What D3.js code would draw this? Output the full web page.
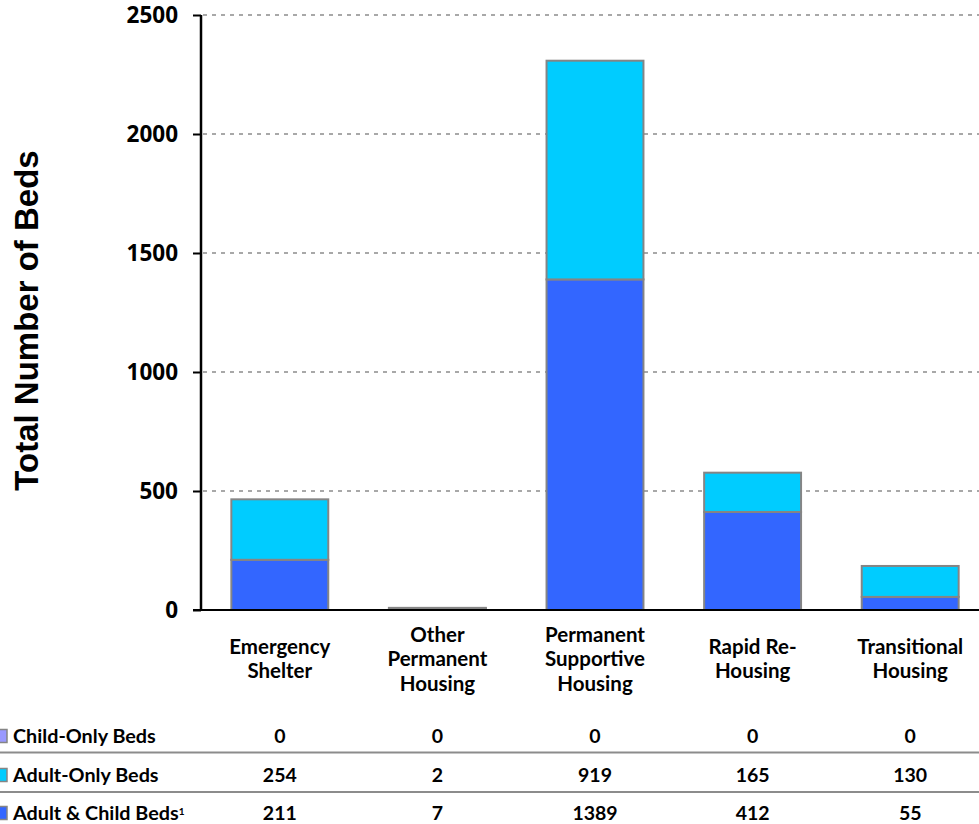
<!DOCTYPE html>
<html>
<head>
<meta charset="utf-8">
<script src="https://cdn.jsdelivr.net/npm/d3@7"></script>
<style>
  html, body { margin: 0; padding: 0; background: #fff; }
  svg { display: block; }
</style>
</head>
<body>
<svg id="chart" width="979" height="824"></svg>
<script>
// Bed inventory by project type
const categories = [
  ["Emergency", "Shelter"],
  ["Other", "Permanent", "Housing"],
  ["Permanent", "Supportive", "Housing"],
  ["Rapid Re-", "Housing"],
  ["Transitional", "Housing"]
];
const childOnly   = [0, 0, 0, 0, 0];
const adultOnly   = [254, 2, 919, 165, 130];
const adultChild  = [211, 7, 1389, 412, 55];
const yTicks      = [0, 500, 1000, 1500, 2000, 2500];

const seriesNames  = ["Adult & Child Beds", "Adult-Only Beds", "Child-Only Beds"];
const seriesColors = ["#3366FF", "#00CCFF", "#9999FF"];

const svg = d3.select("#chart");
const plot = { left: 201, right: 989, top: 15, bottom: 610 };

const x = d3.scaleBand()
  .domain(d3.range(categories.length))
  .range([plot.left, plot.right])
  .paddingInner(0.385)
  .paddingOuter(0.1925);

const y = d3.scaleLinear()
  .domain([0, 2500])
  .range([plot.bottom, plot.top]);

// Gridlines
svg.append("g")
  .selectAll("line")
  .data(yTicks.filter(d => d > 0))
  .join("line")
  .attr("x1", plot.left + 2)
  .attr("x2", 979)
  .attr("y1", d => y(d))
  .attr("y2", d => y(d))
  .attr("stroke", "#8c8c8c")
  .attr("stroke-width", 1.5)
  .attr("stroke-dasharray", "4,5");

// Stacked bars
const rows = categories.map((c, i) => ({
  i, ac: adultChild[i], ao: adultOnly[i], co: childOnly[i]
}));
const stack = d3.stack().keys(["ac", "ao", "co"]);
const layers = stack(rows);

svg.append("g")
  .selectAll("g")
  .data(layers)
  .join("g")
  .attr("fill", (d, k) => seriesColors[k])
  .selectAll("rect")
  .data(d => d.filter(s => s[1] - s[0] > 0))
  .join("rect")
  .attr("x", d => x(d.data.i))
  .attr("width", x.bandwidth())
  .attr("y", d => y(d[1]))
  .attr("height", d => y(d[0]) - y(d[1]))
  .attr("stroke", "#858585")
  .attr("stroke-width", 2);

// Y axis
const yAxis = d3.axisLeft(y)
  .tickValues(yTicks)
  .tickSize(8)
  .tickPadding(15)
  .tickFormat(d3.format("d"));

const ag = svg.append("g")
  .attr("transform", `translate(${plot.left},0)`)
  .call(yAxis);
ag.select(".domain").attr("stroke", "#000").attr("stroke-width", 2.5)
  .attr("d", `M0,${plot.top}V${plot.bottom}`);
ag.selectAll(".tick line").attr("stroke", "#000").attr("stroke-width", 2);
ag.selectAll(".tick text")
  .attr("fill", "#000")
  .style("font-family", "'Open Sans', 'DejaVu Sans', sans-serif")
  .style("font-weight", "700")
  .style("font-size", "22.5px");

// Baseline
svg.append("line")
  .attr("x1", plot.left - 8)
  .attr("x2", 979)
  .attr("y1", y(0))
  .attr("y2", y(0))
  .attr("stroke", "#000")
  .attr("stroke-width", 2);

// Axis title
svg.append("text")
  .attr("transform", `translate(38,320.5) rotate(-90)`)
  .attr("text-anchor", "middle")
  .style("font-family", "'Liberation Sans', Arial, sans-serif")
  .style("font-weight", "700")
  .style("font-size", "33px")
  .text("Total Number of Beds");

// Category labels
const labelFont = "Lato, 'Open Sans', sans-serif";
const catG = svg.append("g");
categories.forEach((lines, i) => {
  const cx = x(i) + x.bandwidth() / 2;
  const lh = 24.5;
  const mid = 659;
  const t = catG.append("text")
    .attr("text-anchor", "middle")
    .style("font-family", labelFont)
    .style("font-weight", "700")
    .style("font-size", "20.5px")
    .attr("fill", "#000");
  lines.forEach((ln, j) => {
    t.append("tspan")
      .attr("x", cx)
      .attr("y", mid + (j - (lines.length - 1) / 2) * lh)
      .attr("dy", "0.35em")
      .text(ln);
  });
});

// Data table
const tableRows = [
  { name: "Child-Only Beds", values: childOnly, color: seriesColors[2], sup: false },
  { name: "Adult-Only Beds", values: adultOnly, color: seriesColors[1], sup: false },
  { name: "Adult & Child Beds", values: adultChild, color: seriesColors[0], sup: true }
];
const rowY = [736, 775, 813];
const sepY = [752.5, 792];

svg.append("g")
  .selectAll("line")
  .data(sepY)
  .join("line")
  .attr("x1", 0).attr("x2", 979)
  .attr("y1", d => d).attr("y2", d => d)
  .attr("stroke", "#8c8c8c")
  .attr("stroke-width", 2);

const tg = svg.append("g");
tableRows.forEach((r, k) => {
  tg.append("rect")
    .attr("x", -5).attr("y", rowY[k] - 6.5)
    .attr("width", 12).attr("height", 13)
    .attr("fill", r.color)
    .attr("stroke", "#858585").attr("stroke-width", 1.5);
  const t = tg.append("text")
    .attr("x", 13).attr("y", rowY[k]).attr("dy", "0.35em")
    .style("font-family", labelFont)
    .style("font-weight", "700")
    .style("font-size", "19.8px")
    .text(r.name);
  if (r.sup) {
    t.append("tspan").attr("dy", "-0.45em").style("font-size", "10px").text("1");
  }
  r.values.forEach((v, i) => {
    tg.append("text")
      .attr("x", x(i) + x.bandwidth() / 2)
      .attr("y", rowY[k]).attr("dy", "0.35em")
      .attr("text-anchor", "middle")
      .style("font-family", labelFont)
      .style("font-weight", "700")
      .style("font-size", "19.5px")
      .text(d3.format("d")(v));
  });
});
</script>
</body>
</html>
